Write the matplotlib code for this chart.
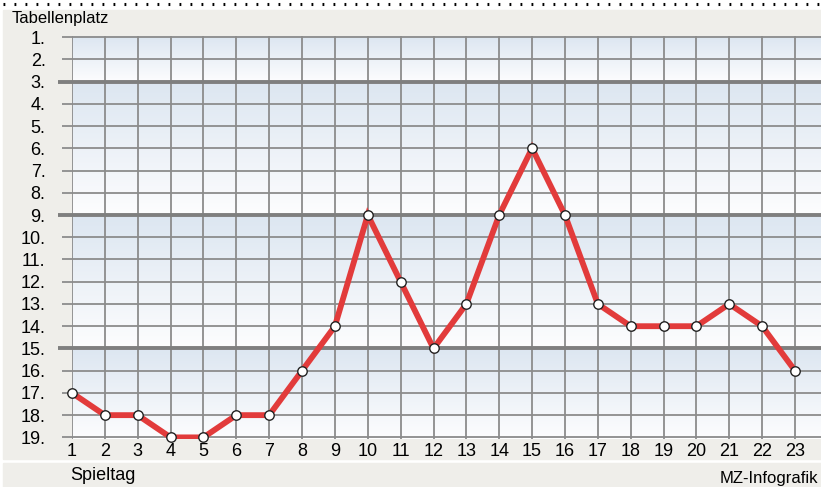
import numpy as np
import matplotlib.pyplot as plt
from matplotlib.patches import Rectangle
from matplotlib.colors import LinearSegmentedColormap

# Spieltag vs Tabellenplatz
spieltag = list(range(1, 24))
platz = [17, 18, 18, 19, 19, 18, 18, 16, 14, 9, 12, 15, 13, 9, 6, 9, 13, 14, 14, 14, 13, 14, 16]
rank_labels = [f"{r}." for r in range(1, 20)]
band_edges = [0.95, 3, 9, 15, 19.05]
thick_lines = [3, 9, 15]

plt.rcParams['font.family'] = ['Liberation Sans Narrow', 'Liberation Sans', 'DejaVu Sans']

W, H = 821, 487
fig = plt.figure(figsize=(W / 100, H / 100), dpi=100)
fig.patch.set_facecolor('white')

grey = '#efeeea'
# grey frame pieces (figure pixel coords -> fraction)
def px_rect(x0, y0, x1, y1, color):
    fig.patches.append(Rectangle((x0 / W, 1 - y1 / H), (x1 - x0) / W, (y1 - y0) / H,
                                 transform=fig.transFigure, color=color, zorder=-10))

px_rect(3, 10, 821, 459, grey)
px_rect(3, 463, 821, 487, grey)

# dotted line at top
fig.add_artist(plt.Line2D([3 / W, 1], [1 - 4 / H, 1 - 4 / H], transform=fig.transFigure,
                          color='black', lw=2.2, linestyle=(0, (0.6, 3.0))))

x0_px, x1_px = 72, 821
day_step = (795 - 72) / 22
ax = fig.add_axes([x0_px / W, 1 - 438.5 / H, (x1_px - x0_px) / W, (438.5 - 36) / H])
ax.set_zorder(1)
xmax = 1 + (x1_px - x0_px) / day_step
ax.set_facecolor('white')
for s in ax.spines.values():
    s.set_visible(False)

# gradient bands
cmap = LinearSegmentedColormap.from_list('band', ['#dce6f1', '#fdfdfe'])
grad = np.linspace(0, 1, 256).reshape(-1, 1)
for top, bot in zip(band_edges[:-1], band_edges[1:]):
    ax.imshow(grad, aspect='auto', cmap=cmap, extent=[1, xmax, bot, top], zorder=0)
ax.set_ylim(19.05, 0.95)
ax.set_xlim(1, xmax)

# grid
stub = 1 - 10 / day_step
stub_thick = 1 - 14 / day_step
for d in spieltag:
    ax.axvline(d, color='#8c8c8c', lw=1.3, zorder=1)
for r in range(1, 20):
    if r in thick_lines:
        ax.plot([stub_thick, xmax], [r, r], color='#7f7f7f', lw=2.8, zorder=2, clip_on=False,
                solid_capstyle='butt')
    else:
        ax.plot([stub, xmax], [r, r], color='#8c8c8c', lw=1.3, zorder=1, clip_on=False,
                solid_capstyle='butt')

ax.plot(spieltag, platz, color='#e23b3b', lw=4.2, zorder=3, solid_joinstyle='miter')
ax.plot(spieltag, platz, linestyle='none', marker='o', ms=6.8, mfc='white', mec='#222222',
        mew=1.0, zorder=4, clip_on=False)

ax.set_yticks(range(1, 20))
ax.set_yticklabels(rank_labels, fontsize=13)
ax.set_xticks(spieltag)
ax.set_xticklabels([str(d) for d in spieltag], fontsize=13)
ax.tick_params(axis='y', length=0, pad=19)
ax.tick_params(axis='x', length=0, pad=3)

fig.text(12 / W, 1 - 18 / H, 'Tabellenplatz', fontsize=12, va='center', ha='left')
fig.text(70 / W, 1 - 476 / H, 'Spieltag', fontsize=13, va='center', ha='left')
fig.text(818 / W, 1 - 478 / H, 'MZ-Infografik', fontsize=12, va='center', ha='right')

fig.savefig('out.png', dpi=100, facecolor=fig.get_facecolor())
